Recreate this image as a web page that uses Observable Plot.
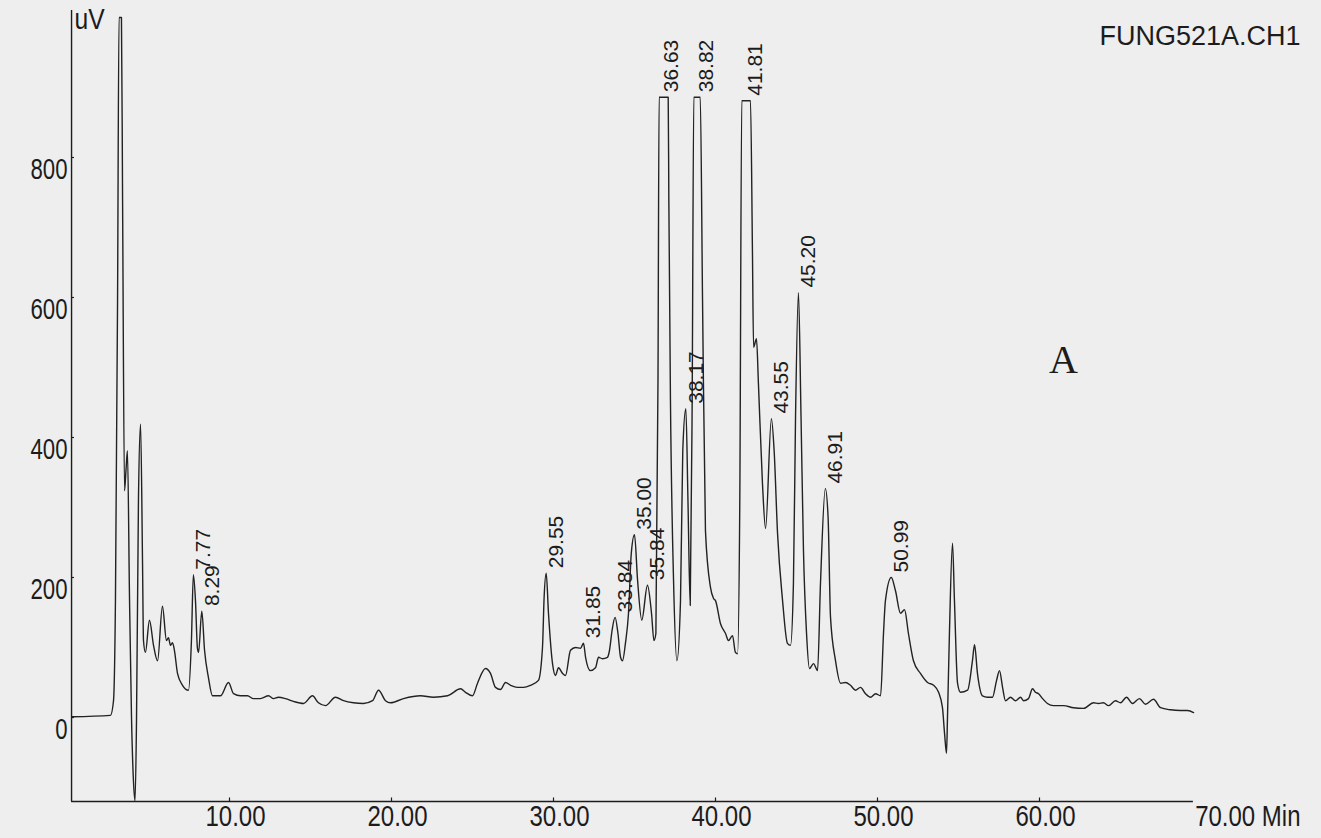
<!DOCTYPE html>
<html>
<head>
<meta charset="utf-8">
<script src="https://cdn.jsdelivr.net/npm/d3@7"></script>
<script src="https://cdn.jsdelivr.net/npm/@observablehq/plot@0.6"></script>
<style>
  html, body { margin: 0; padding: 0; background: #eeeeee; }
  #chart svg { display: block; }
</style>
</head>
<body>
<div id="chart"></div>
<script>
// Chromatogram trace: retention time (min) and detector signal (uV)
const traceTime = [
  0.25, 2.65, 2.84, 2.96, 3.09, 3.18, 3.33, 3.40, 3.52, 3.61, 3.70, 3.83, 3.95, 4.07, 4.17, 4.26, 4.38, 4.51, 4.63, 4.69,
  4.81, 5.06, 5.31, 5.56, 5.86, 6.11, 6.23, 6.36, 6.48, 6.60, 6.79, 7.10, 7.47, 7.65, 7.77, 7.90, 8.02, 8.09, 8.29, 8.46,
  8.70, 8.95, 9.44, 9.94, 10.25, 10.68, 11.11, 11.48, 11.91, 12.41, 12.72, 13.02, 13.46, 13.95, 14.57, 15.12, 15.49, 15.93, 16.54, 17.04,
  17.65, 18.27, 18.83, 19.20, 19.63, 19.94, 20.74, 21.79, 22.59, 23.46, 24.26, 24.57, 25.00, 25.31, 25.80, 26.11, 26.42, 26.73, 27.04, 27.35,
  27.78, 28.15, 28.58, 29.07, 29.32, 29.42, 29.55, 29.69, 29.94, 30.12, 30.31, 30.56, 30.74, 31.05, 31.36, 31.67, 31.85, 31.98, 32.28, 32.59,
  32.78, 33.02, 33.33, 33.45, 33.62, 33.80, 33.98, 34.14, 34.26, 34.44, 34.63, 34.80, 35.00, 35.19, 35.45, 35.80, 36.05, 36.20, 36.32, 36.45,
  36.52, 37.08, 37.12, 37.22, 37.41, 37.62, 37.84, 37.98, 38.17, 38.30, 38.44, 38.56, 38.66, 39.06, 39.20, 39.38, 39.69, 39.88, 40.00, 40.31,
  40.62, 40.80, 41.05, 41.23, 41.36, 41.50, 41.62, 42.16, 42.28, 42.35, 42.53, 42.65, 42.90, 43.09, 43.45, 43.62, 43.83, 44.14, 44.44, 44.63,
  44.81, 44.94, 45.12, 45.28, 45.43, 45.62, 45.80, 46.05, 46.30, 46.48, 46.78, 46.95, 47.10, 47.41, 47.72, 48.02, 48.33, 48.64, 48.95, 49.26,
  49.57, 49.88, 50.19, 50.37, 50.49, 50.85, 51.11, 51.42, 51.67, 51.91, 52.22, 52.65, 53.09, 53.46, 53.77, 54.01, 54.14, 54.26, 54.32, 54.44,
  54.63, 54.75, 54.94, 55.12, 55.56, 55.86, 55.99, 56.17, 56.48, 56.79, 57.10, 57.35, 57.53, 57.72, 57.90, 58.21, 58.52, 58.83, 59.01, 59.32,
  59.57, 59.75, 59.94, 60.19, 60.49, 60.86, 61.48, 62.10, 62.72, 63.33, 63.64, 63.95, 64.26, 64.69, 65.00, 65.37, 65.74, 66.17, 66.54, 67.04,
  67.47, 68.09, 68.70, 69.14, 69.51
];
const traceSignal = [
  1, 3, 24, 167, 596, 1000, 1000, 739, 324, 353, 381, 167, 1, -90, -119, -4, 310, 419, 224, 110,
  93, 139, 103, 81, 159, 110, 114, 103, 107, 96, 63, 46, 39, 110, 204, 167, 99, 93, 152, 96,
  57, 31, 31, 50, 34, 31, 31, 27, 27, 31, 27, 29, 27, 23, 20, 31, 21, 17, 29, 24,
  21, 20, 24, 39, 24, 21, 27, 31, 29, 31, 41, 36, 31, 49, 70, 63, 43, 40, 50, 46,
  43, 43, 46, 53, 100, 171, 206, 149, 77, 60, 71, 63, 60, 96, 100, 99, 106, 86, 67, 71,
  86, 84, 86, 95, 125, 143, 120, 86, 81, 106, 149, 234, 261, 196, 139, 189, 149, 110, 120, 481,
  886, 886, 739, 453, 196, 81, 167, 381, 441, 310, 160, 453, 886, 886, 596, 267, 186, 170, 167, 134,
  120, 110, 117, 93, 91, 310, 881, 881, 667, 529, 541, 477, 334, 270, 427, 381, 263, 167, 106, 103,
  191, 429, 607, 429, 239, 120, 70, 77, 67, 191, 327, 286, 143, 81, 49, 50, 46, 39, 43, 34,
  29, 34, 31, 120, 167, 200, 181, 149, 154, 120, 81, 63, 50, 46, 36, 14, -23, -51, 0, 120,
  249, 167, 49, 36, 39, 81, 104, 63, 31, 29, 29, 53, 67, 43, 24, 29, 24, 29, 24, 27,
  41, 36, 34, 27, 20, 17, 17, 14, 13, 21, 20, 21, 17, 24, 21, 29, 20, 27, 19, 26,
  14, 11, 10, 10, 7
];

// Annotated peaks (retention time printed by the integrator)
const peakLabels = ["7.77", "8.29", "29.55", "31.85", "33.84", "35.00", "35.84", "36.63", "38.17", "38.82", "41.81", "43.55", "45.20", "46.91", "50.99"];
const peakTimes  = [7.77, 8.29, 29.55, 31.85, 33.80, 35.00, 35.80, 36.63, 38.17, 38.82, 41.81, 43.45, 45.12, 46.78, 50.85];
const peakHeights = [204, 152, 206, 106, 143, 261, 189, 886, 441, 886, 881, 427, 607, 327, 200];

// Axis ticks
const yTicks = [0, 200, 400, 600, 800];
const xTicks = [10, 20, 30, 40, 50, 60];
const xTickLabels = ["10.00", "20.00", "30.00", "40.00", "50.00", "60.00"];
const xEndTick = 70;
const xEndLabel = "70.00 Min";

const xStart = 0.25, xEnd = 69.5, yBottom = -120, yTop = 1010;

const trace = traceTime.map((t, i) => ({t, v: traceSignal[i]}));
const peaks = peakLabels.map((label, i) => ({label, t: peakTimes[i], v: peakHeights[i]}));
const xt = xTicks.map((t, i) => ({t, label: xTickLabels[i]}));

const sans = "'Liberation Sans', Arial, sans-serif";
const ink = "#1c1c1c";

const chart = Plot.plot({
  width: 1321,
  height: 838,
  marginLeft: 67,
  marginRight: 120,
  marginTop: 10,
  marginBottom: 37,
  x: {domain: [0, 70], axis: null},
  y: {domain: [yBottom, yTop], axis: null},
  style: {background: "#eeeeee", color: ink},
  marks: [
    // axes lines
    Plot.ruleX([xStart], {y1: yBottom, y2: yTop, stroke: ink, strokeWidth: 1.4}),
    Plot.ruleY([yBottom], {x1: xStart, x2: xEnd, stroke: ink, strokeWidth: 1.4}),
    // y ticks and labels
    Plot.ruleY(yTicks, {x1: xStart, x2: xStart + 0.18, stroke: ink, strokeWidth: 1.2}),
    Plot.text(yTicks, {x: xStart, y: d => d, text: d => String(d), textAnchor: "end", lineAnchor: "top",
      dx: -4, dy: 0, fontSize: 30, fontFamily: sans, fill: ink, ariaLabel: () => "narrow-y"}),
    // x ticks and labels
    Plot.ruleX(xTicks, {y1: yBottom, y2: yBottom + 5, stroke: ink, strokeWidth: 1.2}),
    Plot.text(xt, {x: "t", y: yBottom, text: "label", textAnchor: "start", lineAnchor: "top",
      dx: -24, dy: 3, fontSize: 30, fontFamily: sans, fill: ink, ariaLabel: () => "narrow-x"}),
    Plot.text([xEndLabel], {x: xEndTick, y: yBottom, text: d => d, textAnchor: "end", lineAnchor: "top",
      dx: 99, dy: 3, fontSize: 30, fontFamily: sans, fill: ink, ariaLabel: () => "narrow-x"}),
    // unit label
    Plot.text(["uV"], {x: xStart, y: yTop, text: d => d, textAnchor: "start", lineAnchor: "top",
      dx: 3, dy: -2, fontSize: 29, fontFamily: sans, fill: ink, ariaLabel: () => "narrow-u"}),
    // chromatogram trace
    Plot.line(trace, {x: "t", y: "v", stroke: "#222222", strokeWidth: 1.4, curve: "monotone-x"}),
    // peak annotations
    Plot.text(peaks, {x: "t", y: "v", text: "label", rotate: -90, textAnchor: "start", lineAnchor: "middle",
      dx: 10, dy: -5, fontSize: 21, fontFamily: sans, fill: ink}),
    // file name and panel letter
    Plot.text(["FUNG521A.CH1"], {frameAnchor: "top-right", text: d => d, textAnchor: "end", lineAnchor: "middle",
      dx: 99, dy: 26, fontSize: 27, fontFamily: sans, fill: ink}),
    Plot.text(["A"], {frameAnchor: "top-right", text: d => d, textAnchor: "middle", lineAnchor: "middle",
      dx: -138, dy: 350, fontSize: 40, fontFamily: "'Liberation Serif', 'Times New Roman', serif", fill: ink})
  ]
});
document.getElementById("chart").appendChild(chart);

// Condense the axis lettering (the original uses a narrow sans face): horizontal scale about the anchor point
const squeeze = {"narrow-y": 0.74, "narrow-x": 0.8, "narrow-u": 0.85};
d3.select(chart).selectAll("text[aria-label^='narrow']").each(function () {
  const f = squeeze[this.getAttribute("aria-label")] || 0.8;
  const tr = this.getAttribute("transform") || "";
  this.setAttribute("transform", `${tr} scale(${f},1)`);
});
</script>
</body>
</html>
